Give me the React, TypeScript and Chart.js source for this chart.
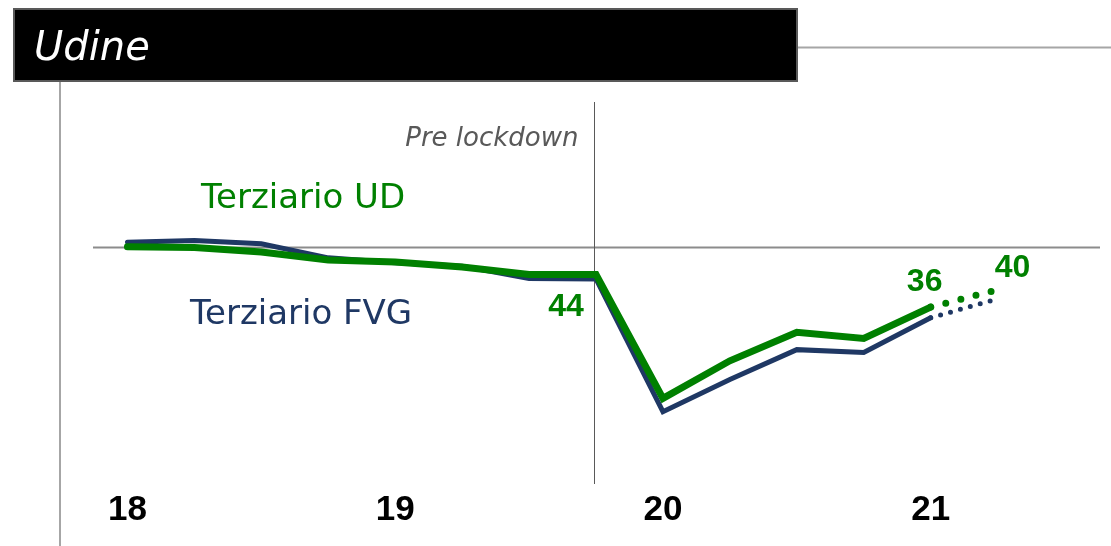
import React, { useEffect, useRef } from "react";
import { Chart, registerables } from "chart.js";

Chart.register(...registerables);

// ---- data ----
const quarters = [
  "I-18", "II-18", "III-18", "IV-18",
  "I-19", "II-19", "III-19", "IV-19",
  "I-20", "II-20", "III-20", "IV-20",
  "I-21", "II-21",
];
const yearTickIndex = [0, 4, 8, 12];
const yearTickLabels = ["18", "19", "20", "21"];

const terziarioUD = [50.4, 50.2, 49.1, 47.2, 46.7, 45.5, 43.7, 43.7, 13.7, 22.8, 29.7, 28.2, 35.8, 40.0];
const terziarioFVG = [51.5, 51.9, 51.1, 47.7, 46.5, 45.7, 42.7, 42.6, 10.5, 18.3, 25.5, 24.8, 33.2, 37.8];

const forecastFrom = 12; // segment after this index is a forecast (dotted)
const labelIndexes = [7, 12, 13];
const referenceLevel = 50;
const lockdownAt = 6.97;

const seriesNames = ["Terziario UD", "Terziario FVG"];
const titleText = "Udine";
const lockdownText = "Pre lockdown";

const GREEN = "#008000";
const NAVY = "#1F3864";

const decorPlugin = {
  id: "decor",
  beforeDraw(chart: any) {
    const ctx = chart.ctx;
    ctx.save();
    // top rule
    ctx.strokeStyle = "#A6A6A6";
    ctx.lineWidth = 2;
    ctx.beginPath();
    ctx.moveTo(797, 47.5);
    ctx.lineTo(1111, 47.5);
    ctx.stroke();
    // left vertical rule
    ctx.beginPath();
    ctx.moveTo(60, 80);
    ctx.lineTo(60, 546);
    ctx.stroke();
    // title box
    ctx.fillStyle = "#000";
    ctx.fillRect(14, 9, 783, 72);
    ctx.strokeStyle = "#595959";
    ctx.lineWidth = 2;
    ctx.strokeRect(14, 9, 783, 72);
    ctx.fillStyle = "#fff";
    ctx.font = 'italic 40px "DejaVu Sans"';
    ctx.textBaseline = "alphabetic";
    ctx.textAlign = "left";
    ctx.fillText(titleText, 34, 60);
    ctx.restore();
  },
  beforeDatasetsDraw(chart: any) {
    const ctx = chart.ctx;
    const x = chart.scales.x;
    const y = chart.scales.y;
    const area = chart.chartArea;
    ctx.save();
    // reference line at 50
    const y50 = Math.round(y.getPixelForValue(referenceLevel)) - 0.5;
    ctx.strokeStyle = "#8C8C8C";
    ctx.lineWidth = 2;
    ctx.beginPath();
    ctx.moveTo(area.left - 1, y50);
    ctx.lineTo(area.right + 2, y50);
    ctx.stroke();
    // lockdown line
    const xl = Math.round(x.getPixelForValue(lockdownAt)) + 0.5;
    ctx.strokeStyle = "#595959";
    ctx.lineWidth = 1;
    ctx.beginPath();
    ctx.moveTo(xl, 102);
    ctx.lineTo(xl, area.bottom);
    ctx.stroke();
    // pre lockdown text
    ctx.fillStyle = "#595959";
    ctx.font = 'italic 26px "DejaVu Sans"';
    ctx.textAlign = "right";
    ctx.textBaseline = "alphabetic";
    ctx.fillText(lockdownText, xl - 16, 146);
    // series names
    ctx.textAlign = "left";
    ctx.font = '34px "DejaVu Sans"';
    ctx.fillStyle = GREEN;
    ctx.fillText(seriesNames[0], 201, 208);
    ctx.fillStyle = NAVY;
    ctx.fillText(seriesNames[1], 190, 324);
    ctx.restore();
  },
  afterDatasetsDraw(chart: any) {
    const ctx = chart.ctx;
    const meta = chart.getDatasetMeta(0);
    ctx.save();
    ctx.fillStyle = GREEN;
    ctx.font = 'bold 32px "Liberation Sans"';
    ctx.textAlign = "center";
    ctx.textBaseline = "middle";
    const offsets: Record<number, [number, number]> = {
      7: [-30, 33],
      12: [-6, -25],
      13: [15, -22],
    };
    labelIndexes.forEach((i) => {
      const pt = meta.data[i];
      const off = offsets[i] || [0, -20];
      ctx.fillText(String(Math.round(terziarioUD[i])), pt.x + off[0], pt.y + off[1]);
    });
    ctx.restore();
  },
};

export default function App() {
  const ref = useRef<HTMLCanvasElement>(null);
  useEffect(() => {
    if (!ref.current) return;
    const mk = (vals: number[]) => vals.map((v, i) => ({ x: i, y: v }));
    const chart = new Chart(ref.current, {
      type: "line",
      data: {
        labels: quarters,
        datasets: [
          {
            label: seriesNames[0],
            data: mk(terziarioUD),
            borderColor: GREEN,
            borderWidth: 7,
            pointRadius: 0,
            tension: 0,
            borderCapStyle: "round",
            borderJoinStyle: "miter",
            segment: {
              borderDash: (c: any) => (c.p0DataIndex >= forecastFrom ? [0, 15.6] : undefined),
            },
          },
          {
            label: seriesNames[1],
            data: mk(terziarioFVG),
            borderColor: NAVY,
            borderWidth: 5,
            pointRadius: 0,
            tension: 0,
            borderCapStyle: "round",
            borderJoinStyle: "miter",
            segment: {
              borderDash: (c: any) => (c.p0DataIndex >= forecastFrom ? [0, 10.3] : undefined),
            },
          },
        ],
      },
      options: {
        responsive: false,
        animation: false,
        devicePixelRatio: 1,
        layout: { padding: { left: 94, right: 13, top: 207, bottom: 0 } },
        plugins: { legend: { display: false }, tooltip: { enabled: false }, title: { display: false } },
        scales: {
          x: {
            type: "linear",
            min: -0.5,
            max: 14.5,
            grid: { display: false, drawTicks: false },
            border: { display: false },
            afterBuildTicks: (axis: any) => {
              axis.ticks = yearTickIndex.map((v) => ({ value: v }));
            },
            afterFit: (s: any) => {
              s.height = 62;
            },
            ticks: {
              autoSkip: false,
              maxRotation: 0,
              padding: 5,
              color: "#000",
              font: { family: "Liberation Sans", size: 35, weight: "bold" },
              callback: (v: any) => {
                const k = yearTickIndex.indexOf(Number(v));
                return k >= 0 ? yearTickLabels[k] : "";
              },
            },
          },
          y: {
            display: false,
            min: -7,
            max: 60,
          },
        },
      },
      plugins: [decorPlugin],
    } as any);
    return () => chart.destroy();
  }, []);
  return (
    <div style={{ position: "absolute", left: 0, top: 0, width: 1111, height: 546, background: "#fff" }}>
      <canvas ref={ref} width={1111} height={546} style={{ display: "block" }} />
    </div>
  );
}
